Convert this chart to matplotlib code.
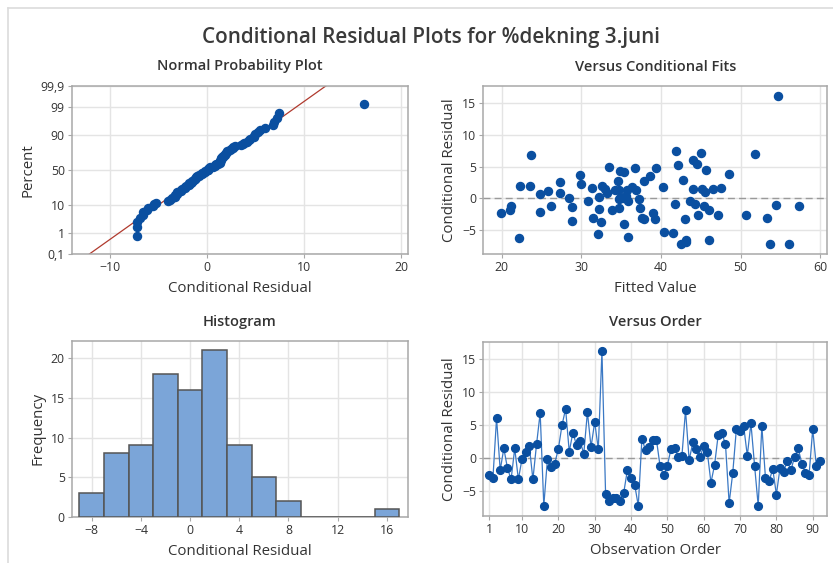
import numpy as np
import matplotlib
matplotlib.use("Agg")
import matplotlib.pyplot as plt
from matplotlib.lines import Line2D
from statistics import NormalDist

plt.rcParams['font.family'] = ['Open Sans', 'DejaVu Sans']

# conditional residuals in observation order (1..92)
resid = [
    -2.7, -3.1, 6.0, -1.9, 1.4, -1.6, -3.3, 1.4, -3.3, -0.2,
    0.8, 1.8, -3.3, 2.0, 6.8, -7.3, -0.2, -1.4, -0.9, 1.3,
    4.9, 7.4, 0.9, 3.8, 1.9, 2.5, 0.6, 6.9, 1.6, 5.4,
    1.3, 16.2, -5.5, -6.6, -6.1, -6.2, -6.6, -5.3, -1.9, -3.1,
    -4.1, -7.3, 2.9, 1.1, 1.6, 2.7, 2.7, -1.3, -2.7, -1.2,
    1.3, 1.5, 0.1, 0.2, 7.2, -0.4, 2.3, 1.3, 0.1, 1.8,
    0.8, -3.8, -1.1, 3.5, 3.7, 2.0, -6.9, -2.3, 4.4, 4.1,
    4.8, 0.3, 5.2, -1.2, -7.3, 4.8, -3.1, -3.6, -1.7, -5.6,
    -1.6, -2.2, -0.5, -1.9, 0.1, 1.4, -0.9, -2.3, -2.6, 4.3,
    -1.3, -0.5,
]

# conditional fitted values, same order
fitted = [
    44.6, 31.5, 44.0, 33.8, 46.5, 34.7, 43.0, 33.0, 37.9, 37.3,
    33.2, 36.4, 39.2, 22.3, 23.7, 53.7, 34.7, 28.8, 41.8, 34.7,
    33.5, 41.9, 45.5, 48.6, 32.6, 27.3, 24.8, 51.8, 47.5, 44.5,
    36.9, 54.7, 41.5, 43.2, 35.9, 22.2, 46.0, 40.4, 46.0, 53.3,
    35.4, 56.1, 42.8, 25.8, 31.3, 34.6, 37.9, 57.3, 47.2, 45.4,
    34.2, 45.2, 28.4, 32.2, 45.1, 35.9, 30.0, 35.7, 35.2, 40.3,
    27.3, 32.5, 54.4, 38.6, 29.8, 23.6, 43.1, 19.9, 45.7, 35.4,
    36.7, 35.6, 42.1, 21.2, 42.5, 39.4, 37.6, 28.8, 32.2, 32.1,
    37.4, 24.8, 30.9, 21.0, 34.9, 44.0, 44.3, 39.0, 50.7, 34.9,
    26.2, 43.6,
]

hist_edges = list(range(-9, 19, 2))
pct_ticks = [0.1, 1, 10, 50, 90, 99, 99.9]
pct_labels = ["0,1", "1", "10", "50", "90", "99", "99,9"]

BLUE = "#0a4fa0"
LINE_BLUE = "#3a78c4"
BAR = "#7ba5d8"
TXT = "#333333"
GRID = "#e4e4e4"
FRAME = "#a8a8a8"

W, H = 833, 563
fig = plt.figure(figsize=(W / 100, H / 100), dpi=100)

# thin window border along top and left
fig.add_artist(Line2D([7.5 / W, 1], [1 - 8 / H, 1 - 8 / H], color="#dcdcdc", lw=1.2))
fig.add_artist(Line2D([7.5 / W, 7.5 / W], [0, 1 - 8 / H], color="#dcdcdc", lw=1.2))

fig.text(431 / W, 1 - 38 / H, "Conditional Residual Plots for %dekning 3.juni",
         ha="center", va="center", fontsize=14.9, color="#3a3a3a", fontweight="semibold")


def make_ax(l, t, r, b):
    ax = fig.add_axes([l / W, 1 - b / H, (r - l) / W, (b - t) / H])
    ax.set_axisbelow(True)
    ax.grid(True, color=GRID, lw=1)
    for s in ax.spines.values():
        s.set_color(FRAME)
        s.set_linewidth(1.1)
    ax.tick_params(colors=TXT, labelsize=8.8, length=3, width=0.8, pad=2)
    ax.tick_params(axis="both", color=FRAME)
    return ax


def style(ax, title, xlabel, ylabel):
    ax.set_title(title, fontsize=10.5, color=TXT, fontweight="semibold", pad=11)
    ax.set_xlabel(xlabel, fontsize=10.8, color=TXT, labelpad=5)
    ax.set_ylabel(ylabel, fontsize=10.8, color=TXT, labelpad=4)


r = np.array(resid)
f = np.array(fitted)
n = len(r)
nd = NormalDist()

# normal probability plot
ax1 = make_ax(71.7, 85.7, 407.7, 254.3)
rs = np.sort(r)
pp = (np.arange(1, n + 1) - 0.3) / (n + 0.4)
z = np.array([nd.inv_cdf(p) for p in pp])
zlo, zhi = nd.inv_cdf(0.001), nd.inv_cdf(0.999)
mu, sd = r.mean(), r.std(ddof=1)
ax1.plot([mu + sd * zlo, mu + sd * zhi], [zlo, zhi], color="#b03a2e", lw=0.9, zorder=2)
ax1.plot(rs, z, "o", color=BLUE, ms=5.8, zorder=3)
ax1.set_xlim(-14.0, 20.7)
ax1.set_ylim(zlo, zhi)
ax1.set_xticks([-10, 0, 10, 20])
ax1.set_yticks([nd.inv_cdf(p / 100) for p in pct_ticks])
ax1.set_yticklabels(pct_labels)
style(ax1, "Normal Probability Plot", "Conditional Residual", "Percent")

# residuals versus fitted values
ax2 = make_ax(483.3, 86, 827.3, 254.3)
ax2.axhline(0, color="#9a9a9a", lw=1, ls=(0, (5, 3)), zorder=2)
ax2.plot(f, r, "o", color=BLUE, ms=5.8, zorder=3)
ax2.set_xlim(17.7, 60.9)
ax2.set_ylim(-8.85, 17.7)
ax2.set_xticks([20, 30, 40, 50, 60])
ax2.set_yticks([-5, 0, 5, 10, 15])
style(ax2, "Versus Conditional Fits", "Fitted Value", "Conditional Residual")

# histogram of residuals
ax3 = make_ax(71.7, 341, 407.7, 516.7)
ax3.hist(r, bins=hist_edges, color=BAR, edgecolor="#555555", linewidth=1.1, zorder=3)
ax3.set_xlim(-9.63, 17.7)
ax3.set_ylim(0, 22.2)
ax3.set_xticks([-8, -4, 0, 4, 8, 12, 16])
ax3.set_yticks([0, 5, 10, 15, 20])
style(ax3, "Histogram", "Conditional Residual", "Frequency")

# residuals versus observation order
ax4 = make_ax(483.3, 341.7, 826.7, 516)
obs = np.arange(1, n + 1)
ax4.axhline(0, color="#9a9a9a", lw=1, ls=(0, (5, 3)), zorder=2)
ax4.plot(obs, r, "-", color=LINE_BLUE, lw=0.9, zorder=3)
ax4.plot(obs, r, "o", color=BLUE, ms=5.6, zorder=4)
ax4.set_xlim(-0.65, 93.85)
ax4.set_ylim(-8.86, 17.6)
ax4.set_xticks([1, 10, 20, 30, 40, 50, 60, 70, 80, 90])
ax4.set_yticks([-5, 0, 5, 10, 15])
style(ax4, "Versus Order", "Observation Order", "Conditional Residual")

fig.savefig("out.png", dpi=100, facecolor="white")
